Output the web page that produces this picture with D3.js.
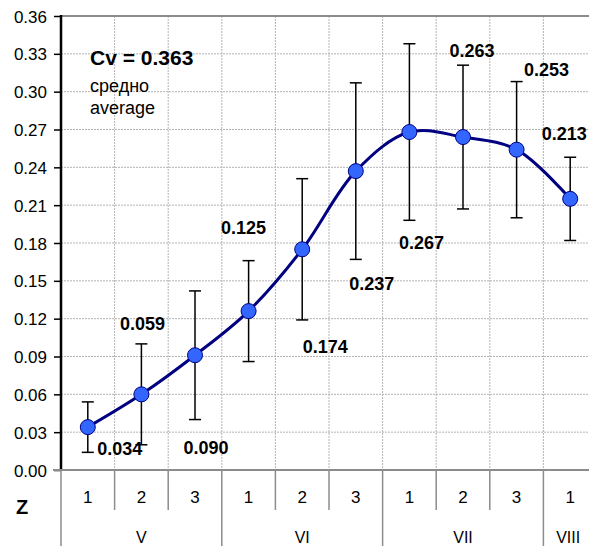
<!DOCTYPE html>
<html>
<head>
<meta charset="utf-8">
<script src="https://cdn.jsdelivr.net/npm/d3@7"></script>
<style>
  body { margin: 0; background: #fff; }
  svg { display: block; font-family: Arial, "Liberation Sans", sans-serif; }
  .grid line { stroke: #b4b4b4; stroke-dasharray: 2,1; stroke-width: 1; }
  .y-axis path { display: none; }
  .y-axis line { stroke: #000; stroke-width: 1.5; }
  .y-axis text { font-size: 17px; fill: #000; }
  .val-label { font-size: 18px; font-weight: bold; fill: #000; }
</style>
</head>
<body>
<div id="chart"></div>
<script>
// categories (sub-zone and zone)
const subLabels = ['1', '2', '3', '1', '2', '3', '1', '2', '3', '1'];
const zoneNames = ['V', 'VI', 'VII', 'VIII'];
const zoneSizes = [3, 3, 3, 1];

// series: average Cv and its error (+/-)
const means = [0.034, 0.060, 0.091, 0.126, 0.175, 0.237, 0.268, 0.264, 0.254, 0.215];
const errors = [0.020, 0.040, 0.051, 0.040, 0.056, 0.070, 0.070, 0.057, 0.054, 0.033];
const valueLabels = ['0.034', '0.059', '0.090', '0.125', '0.174', '0.237', '0.267', '0.263', '0.253', '0.213'];

// y ticks
const yTicks = d3.range(0, 13).map(i => +(i * 0.03).toFixed(2));

const width = 589, height = 546;
const margin = {top: 16, left: 61, bottom: 76};
const plotRight = 597; // plot area runs a little past the window

// where each value label sits, relative to its point (px)
const labelOffsets = [[32, 22], [1, -71], [11, 92], [-5, -83], [23, 97],
                      [16, 113], [12, 111], [9, -86], [30, -80], [-6, -65]];

const svg = d3.select('#chart').append('svg')
    .attr('width', width)
    .attr('height', height);

const x = d3.scaleBand()
    .domain(d3.range(subLabels.length))
    .range([margin.left, plotRight]);

const y = d3.scaleLinear()
    .domain([0, 0.36])
    .range([height - margin.bottom, margin.top]);

const yBottom = y(0);

// gridlines
const grid = svg.append('g').attr('class', 'grid');
grid.selectAll('.h')
    .data(yTicks.filter(d => d > 0 && d < 0.36))
  .join('line')
    .attr('x1', margin.left).attr('x2', plotRight)
    .attr('y1', d => y(d)).attr('y2', d => y(d));
grid.selectAll('.v')
    .data(d3.range(1, subLabels.length))
  .join('line')
    .attr('x1', d => x(d)).attr('x2', d => x(d))
    .attr('y1', margin.top).attr('y2', yBottom);

// top border
svg.append('line')
    .attr('x1', margin.left).attr('x2', plotRight)
    .attr('y1', margin.top).attr('y2', margin.top)
    .attr('stroke', '#8c8c8c').attr('stroke-width', 2);

// y axis
const yAxis = svg.append('g')
    .attr('class', 'y-axis')
    .attr('transform', `translate(${margin.left},0)`)
    .call(d3.axisLeft(y).tickValues(yTicks).tickFormat(d3.format('.2f')).tickSize(7).tickPadding(7));
yAxis.selectAll('text').attr('dy', '0.36em');

svg.append('line')
    .attr('x1', margin.left).attr('x2', margin.left)
    .attr('y1', margin.top - 1).attr('y2', yBottom + 1)
    .attr('stroke', '#000').attr('stroke-width', 2.5);

// x axis: two level category axis
svg.append('line')
    .attr('x1', margin.left - 8).attr('x2', plotRight)
    .attr('y1', yBottom).attr('y2', yBottom)
    .attr('stroke', '#8c8c8c').attr('stroke-width', 2);

const zoneStarts = zoneSizes.map((s, i) => d3.sum(zoneSizes.slice(0, i)));

svg.selectAll('.sub-tick')
    .data(d3.range(0, subLabels.length + 1).filter(i => !zoneStarts.includes(i)))
  .join('line')
    .attr('x1', i => x(i) !== undefined ? x(i) : plotRight)
    .attr('x2', i => x(i) !== undefined ? x(i) : plotRight)
    .attr('y1', yBottom).attr('y2', yBottom + 40)
    .attr('stroke', '#8c8c8c').attr('stroke-width', 1.5);

svg.selectAll('.zone-tick')
    .data(zoneStarts)
  .join('line')
    .attr('x1', i => x(i)).attr('x2', i => x(i))
    .attr('y1', yBottom).attr('y2', height)
    .attr('stroke', '#8c8c8c').attr('stroke-width', 1.5);

svg.selectAll('.sub-label')
    .data(subLabels)
  .join('text')
    .attr('x', (d, i) => x(i) + x.bandwidth() / 2)
    .attr('y', yBottom + 27)
    .attr('dy', '0.35em')
    .attr('text-anchor', 'middle')
    .attr('font-size', 17)
    .text(d => d);

svg.selectAll('.zone-label')
    .data(zoneNames)
  .join('text')
    .attr('x', (d, i) => {
      const a = x(zoneStarts[i]);
      const b = a + zoneSizes[i] * x.bandwidth();
      return i === zoneNames.length - 1 ? (a + 569) / 2 + 12 : (a + b) / 2;
    })
    .attr('y', yBottom + 67)
    .attr('dy', '0.35em')
    .attr('text-anchor', 'middle')
    .attr('font-size', 16)
    .text(d => d);

svg.append('text')
    .attr('x', 22).attr('y', 507)
    .attr('dy', '0.35em')
    .attr('text-anchor', 'middle')
    .attr('font-size', 20)
    .attr('font-weight', 'bold')
    .text('Z');

// error bars
const cx = i => x(i) + x.bandwidth() / 2;
const eb = svg.append('g').attr('stroke', '#000').attr('stroke-width', 1.5);
means.forEach((m, i) => {
  const top = y(m + errors[i]), bot = y(m - errors[i]);
  eb.append('line').attr('x1', cx(i)).attr('x2', cx(i)).attr('y1', top).attr('y2', bot);
  eb.append('line').attr('x1', cx(i) - 6).attr('x2', cx(i) + 6).attr('y1', top).attr('y2', top);
  eb.append('line').attr('x1', cx(i) - 6).attr('x2', cx(i) + 6).attr('y1', bot).attr('y2', bot);
});

// smoothed line
const line = d3.line()
    .x((d, i) => cx(i))
    .y(d => y(d))
    .curve(d3.curveCatmullRom.alpha(0.5));

svg.append('path')
    .datum(means)
    .attr('d', line)
    .attr('fill', 'none')
    .attr('stroke', '#000080')
    .attr('stroke-width', 3);

svg.selectAll('.pt')
    .data(means)
  .join('circle')
    .attr('cx', (d, i) => cx(i))
    .attr('cy', d => y(d))
    .attr('r', 7.5)
    .attr('fill', '#3366ff')
    .attr('stroke', '#000080')
    .attr('stroke-width', 1);

// value labels
svg.selectAll('.val-label')
    .data(valueLabels)
  .join('text')
    .attr('class', 'val-label')
    .attr('x', (d, i) => cx(i) + labelOffsets[i][0])
    .attr('y', (d, i) => y(means[i]) + labelOffsets[i][1])
    .attr('dy', '0.35em')
    .attr('text-anchor', 'middle')
    .text(d => d);

// Cv note
const note = svg.append('g').attr('transform', 'translate(90,0)');
note.append('text')
    .attr('y', 65)
    .attr('font-size', 21)
    .attr('font-weight', 'bold')
    .text('Cv = 0.363');
note.append('text')
    .attr('y', 92)
    .attr('font-size', 18)
    .text('средно');
note.append('text')
    .attr('y', 114)
    .attr('font-size', 18)
    .text('average');
</script>
</body>
</html>
